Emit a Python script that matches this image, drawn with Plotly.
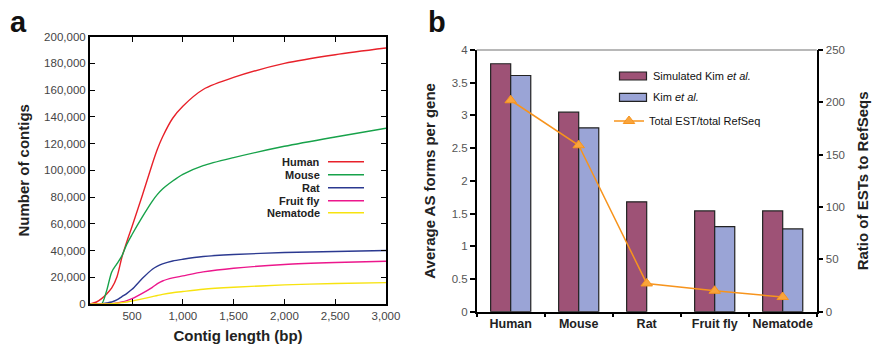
import plotly.graph_objects as go

# ---------- Panel a data ----------
contig_length = [90, 150, 200, 250, 300, 350, 400, 450, 500, 600, 700, 750, 800, 900, 1000, 1200, 1500, 2000, 2500, 3000]
human = [0, 1500, 4000, 7500, 12000, 20000, 35000, 47000, 58000, 81000, 105000, 116000, 125000, 139000, 148000, 160500, 169500, 180000, 186500, 191500]
mouse = [0, 0, 0, 10000, 24000, 30000, 36000, 45000, 52000, 65000, 77000, 82000, 86000, 92000, 97000, 103500, 109500, 118000, 125000, 131500]
rat = [0, 0, 300, 800, 1500, 3000, 5500, 8000, 11000, 19000, 26000, 28300, 30000, 32200, 33500, 35500, 37000, 38500, 39300, 40000]
fruit_fly = [0, 0, 0, 100, 300, 800, 1500, 2500, 4000, 8000, 12500, 15200, 17200, 19500, 21000, 24000, 26800, 29500, 31000, 32000]
nematode = [0, 0, 0, 100, 300, 600, 1000, 1500, 2200, 3800, 5500, 6400, 7200, 8400, 9300, 11000, 12500, 14300, 15300, 16000]
species_a = ["Human", "Mouse", "Rat", "Fruit fly", "Nematode"]
series_a = [human, mouse, rat, fruit_fly, nematode]
colors_a = ["#E8212A", "#17A24A", "#2B3990", "#EC178C", "#F7E30F"]
x_ticks_a = [500, 1000, 1500, 2000, 2500, 3000]

# ---------- Panel b data ----------
categories_b = ["Human", "Mouse", "Rat", "Fruit fly", "Nematode"]
simulated_kim = [3.79, 3.05, 1.68, 1.54, 1.54]
kim = [3.61, 2.81, None, 1.30, 1.265]
est_refseq_ratio = [202, 159, 27, 20, 14]
bar_names = ["Simulated Kim <i>et al.</i>", "Kim <i>et al.</i>"]
bar_colors = ["#9E5276", "#9AA4D6"]

FONT = "Liberation Sans, Arial, sans-serif"
W, H = 880, 345

fig = go.Figure()

for name, ys, col in zip(species_a, series_a, colors_a):
    fig.add_trace(go.Scatter(
        x=contig_length, y=ys, mode="lines", name=name,
        line=dict(color=col, width=1.4, shape="spline", smoothing=0.8),
        xaxis="x", yaxis="y", showlegend=False))

for name, vals, col in zip(bar_names, [simulated_kim, kim], bar_colors):
    fig.add_trace(go.Bar(
        x=categories_b, y=vals, name=name,
        marker=dict(color=col, line=dict(color="#222", width=1.2)),
        xaxis="x2", yaxis="y2", showlegend=False))

fig.add_trace(go.Scatter(
    x=categories_b, y=est_refseq_ratio, name="Total EST/total RefSeq",
    mode="lines+markers",
    line=dict(color="#F7941D", width=1.5),
    marker=dict(symbol="triangle-up", size=10, color="#F9A43C", line=dict(color="#F7941D", width=1)),
    xaxis="x2", yaxis="y3", legend="legend"))

annotations = []
shapes = []

# Panel a legend: text left of line
leg_y = [161.7, 174.7, 187.7, 200.7, 212.7]
for name, col, yy in zip(species_a, colors_a, leg_y):
    annotations.append(dict(x=322 / W, y=1 - yy / H, xref="paper", yref="paper", text=f"<b>{name}</b>",
                            showarrow=False, xanchor="right", yanchor="middle",
                            font=dict(family=FONT, size=11, color="#222")))
    shapes.append(dict(type="line", xref="paper", yref="paper", x0=328 / W, x1=364 / W,
                       y0=1 - yy / H, y1=1 - yy / H, line=dict(color=col, width=1.5)))

# Panel b legend: wide swatches for the bar series
for name, col, yy in zip(bar_names, bar_colors, [76, 97.3]):
    shapes.append(dict(type="rect", xref="paper", yref="paper", x0=619.5 / W, x1=646.5 / W,
                       y0=1 - (yy + 4) / H, y1=1 - (yy - 4) / H,
                       fillcolor=col, line=dict(color="#222", width=1.2)))
    annotations.append(dict(x=650.5 / W, y=1 - yy / H, xref="paper", yref="paper", text=name,
                            showarrow=False, xanchor="left", yanchor="middle",
                            font=dict(family=FONT, size=11, color="#111")))

annotations.append(dict(x=18.5 / W, y=1 - 22 / H, xref="paper", yref="paper", text="<b>a</b>",
                        showarrow=False, xanchor="center", yanchor="middle",
                        font=dict(family=FONT, size=29, color="#111")))
annotations.append(dict(x=437 / W, y=1 - 22 / H, xref="paper", yref="paper", text="<b>b</b>",
                        showarrow=False, xanchor="center", yanchor="middle",
                        font=dict(family=FONT, size=29, color="#111")))

shapes.append(dict(type="line", xref="x2 domain", yref="y2 domain", x0=0, x1=1, y0=1, y1=1,
                   line=dict(color="#A0A0A0", width=1.5)))

tickfont = dict(family=FONT, size=11.5, color="#444")
titlefont = dict(family=FONT, size=15, color="#222")
plain = dict(showline=False, showgrid=False, zeroline=False, showticklabels=False,
             ticks="inside", ticklen=4, tickwidth=1.5, tickcolor="black", automargin=False)

fig.update_layout(
    width=W, height=H,
    margin=dict(l=0, r=0, t=0, b=0),
    paper_bgcolor="white", plot_bgcolor="white",
    font=dict(family=FONT),
    barmode="group", bargap=0.41, bargroupgap=0,
    xaxis=dict(domain=[90 / W, 386 / W], anchor="y", range=[86, 3000], tickvals=x_ticks_a,
               tickformat=",", ticks="inside", ticklen=5, tickcolor="black", showline=True,
               mirror="ticks", linecolor="black", linewidth=2, showgrid=False, zeroline=False,
               tickfont=tickfont, automargin=False,
               title=dict(text="<b>Contig length (bp)</b>", font=titlefont, standoff=10)),
    yaxis=dict(domain=[1 - 304 / H, 1 - 36.7 / H], anchor="x", range=[0, 200000], dtick=20000,
               tickformat=",", ticks="inside", ticklen=5, tickcolor="black", showline=True,
               mirror="ticks", linecolor="black", linewidth=2, showgrid=False, zeroline=False,
               tickfont=tickfont, automargin=False,
               title=dict(text="<b>Number of contigs</b>", font=titlefont, standoff=11)),
    xaxis2=dict(domain=[476.7 / W, 816.7 / W], anchor="y2", type="category", tickson="boundaries",
                ticks="outside", ticklen=4, tickwidth=1.5, tickcolor="black", showline=True,
                linecolor="black", linewidth=1.5, showgrid=False, zeroline=False,
                tickangle=0, automargin=False,
                tickfont=dict(family=FONT, size=12.5, color="#222"),
                tickprefix="<b>", ticksuffix="</b>"),
    xaxis3=dict(plain, overlaying="x2", anchor="y2", type="category", tickson="boundaries",
                categoryarray=categories_b, categoryorder="array", range=[-0.5, 4.5]),
    yaxis2=dict(domain=[1 - 311.7 / H, 1 - 50 / H], anchor="x2", range=[0, 4], dtick=0.5,
                ticks="outside", ticklen=5, tickwidth=1.5, tickcolor="black", showline=True,
                linecolor="black", linewidth=1.5, showgrid=False, zeroline=False,
                automargin=False,
                tickfont=dict(family=FONT, size=11.5, color="#555"),
                title=dict(text="<b>Average AS forms per gene</b>", font=titlefont, standoff=12)),
    yaxis3=dict(overlaying="y2", side="right", anchor="x2", range=[0, 250], dtick=50,
                ticks="outside", ticklen=5, tickwidth=1.5, tickcolor="black", showline=True,
                linecolor="black", linewidth=1.5, showgrid=False, zeroline=False,
                automargin=False,
                tickfont=dict(family=FONT, size=11.5, color="#555"),
                title=dict(text="<b>Ratio of ESTs to RefSeqs</b>", font=titlefont, standoff=14)),
    yaxis4=dict(plain, overlaying="y2", side="left", anchor="x2", range=[0, 4], dtick=0.5),
    yaxis5=dict(plain, overlaying="y2", side="right", anchor="x2", range=[0, 250], dtick=50),
    legend=dict(x=609 / W, y=1 - 121 / H, xanchor="left", yanchor="middle",
                bgcolor="rgba(0,0,0,0)", borderwidth=0,
                font=dict(family=FONT, size=11, color="#111")),
    annotations=annotations,
    shapes=shapes,
)

fig.write_html("out.html", config={"displayModeBar": False},
               post_script="document.body.style.margin='0px';")
